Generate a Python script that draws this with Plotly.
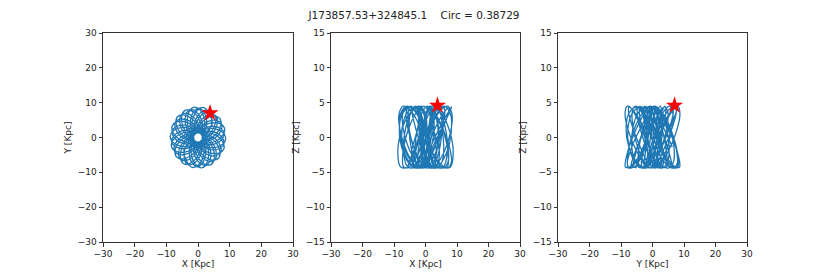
import plotly.graph_objects as go

# Orbit coordinates (kpc)
orbit_x = [4.66, 2.74, 0.40, -0.88, -0.92, -2.77, -5.71, -7.96,
           -8.37, -6.93, -4.03, -1.30, -0.05, 1.09, 3.73, 6.63,
           8.16, 7.88, 5.77, 2.88, 1.00, 1.09, 0.00, -2.20,
           -4.13, -5.14, -4.81, -3.10, -1.49, -2.77, -4.44, -3.25,
           -1.83, 0.00, 1.60, 1.88, 1.27, 3.15, 5.71, 7.19,
           6.93, 5.14, 2.36, 0.22, -0.46, -2.06, -5.02, -7.76,
           -8.79, -7.88, -5.21, -2.22, -0.56, 0.00, 1.98, 4.70,
           6.54, 6.93, 5.63, 3.18, 1.32, 2.06, 1.98, 0.56,
           -1.22, -2.74, -3.41, -2.65, -1.47, -3.15, -5.02, -5.56,
           -4.66, -2.74, -0.40, 0.88, 0.92, 2.77, 5.71, 7.96,
           8.37, 6.93, 4.03, 1.30, 0.05, -1.09, -3.73, -6.63,
           -8.16, -7.88, -5.77, -2.88, -1.00, -1.09, 0.00, 2.20,
           4.13, 5.14, 4.81, 3.10, 1.49, 2.77, 4.44, 3.25,
           1.83, 0.00, -1.60, -1.88, -1.27, -3.15, -5.71, -7.19,
           -6.93, -5.14, -2.36, -0.22, 0.46, 2.06, 5.02, 7.76,
           8.79, 7.88, 5.21, 2.22, 0.56, 0.00, -1.98, -4.70,
           -6.54, -6.93, -5.63, -3.18, -1.32, -2.06, -1.98, -0.56,
           1.22, 2.74, 3.41, 2.65, 1.47, 3.15, 5.02, 5.56,
           3.15, 1.32, -0.57, -1.32, -0.97, -2.82, -5.50, -7.31,
           -7.42, -5.82, -3.08, -0.73, 0.18, 1.50, 4.21, 6.94,
           8.22, 7.60, 5.29, 2.43, 0.69, 0.52, -0.95, -3.33,
           -5.17, -5.82, -5.02, -2.99, -1.24, -2.30, -2.75, -1.84,
           -0.29, 1.32, 2.41, 2.16, 1.21, 3.00, 5.17, 6.15,
           5.62, 3.80, 1.33, -0.31, -0.61, -2.30, -5.17, -7.58,
           -8.32, -7.14, -4.45, -1.68, -0.27, 0.52, 2.75, 5.47,
           7.12, 7.14, 5.49, 2.88, 1.02, 1.50, 0.95, -0.79,
           -2.60, -3.80, -3.96, -2.74, -1.30, -2.82, -4.21, -4.25,
           -3.15, -1.32, 0.57, 1.32, 0.97, 2.82, 5.50, 7.31,
           7.42, 5.82, 3.08, 0.73, -0.18, -1.50, -4.21, -6.94,
           -8.22, -7.60, -5.29, -2.43, -0.69, -0.52, 0.95, 3.33,
           5.17, 5.82, 5.02, 2.99, 1.24, 2.30, 2.75, 1.84,
           0.29, -1.32, -2.41, -2.16, -1.21, -3.00, -5.17, -6.15,
           -5.62, -3.80, -1.33, 0.31, 0.61, 2.30, 5.17, 7.58,
           8.32, 7.14, 4.45, 1.68, 0.27, -0.52, -2.75, -5.47,
           -7.12, -7.14, -5.49, -2.88, -1.02, -1.50, -0.95, 0.79,
           2.60, 3.80, 3.96, 2.74, 1.30, 2.82, 4.21, 4.25]
orbit_y = [7.46, 7.52, 5.79, 3.08, 1.18, 1.60, 1.01, -0.84,
           -2.72, -4.00, -4.17, -2.92, -1.50, -3.01, -4.44, -4.47,
           -3.30, -1.39, 0.61, 1.40, 1.11, 3.01, 5.80, 7.69,
           7.77, 6.13, 3.24, 0.77, -0.21, -1.60, -3.73, -7.31,
           -8.61, -8.00, -5.58, -2.59, -0.79, -0.56, 1.01, 3.51,
           5.42, 6.13, 5.30, 3.19, 1.43, 2.45, 2.90, 1.94,
           0.31, -1.39, -2.54, -2.30, -1.39, -3.20, -5.45, -6.47,
           -5.89, -4.00, -1.40, 0.33, 0.70, 2.45, 5.45, 7.98,
           8.71, 7.52, 4.69, 1.79, 0.31, -0.56, -2.90, -5.75,
           -7.46, -7.52, -5.79, -3.08, -1.18, -1.60, -1.01, 0.84,
           2.72, 4.00, 4.17, 2.92, 1.50, 3.01, 4.44, 4.47,
           3.30, 1.39, -0.61, -1.40, -1.11, -3.01, -5.80, -7.69,
           -7.77, -6.13, -3.24, -0.77, 0.21, 1.60, 3.73, 7.31,
           8.61, 8.00, 5.58, 2.59, 0.79, 0.56, -1.01, -3.51,
           -5.42, -6.13, -5.30, -3.19, -1.43, -2.45, -2.90, -1.94,
           -0.31, 1.39, 2.54, 2.30, 1.39, 3.20, 5.45, 6.47,
           5.89, 4.00, 1.40, -0.33, -0.70, -2.45, -5.45, -7.98,
           -8.71, -7.52, -4.69, -1.79, -0.31, 0.56, 2.90, 5.75,
           7.79, 7.48, 5.47, 2.70, 0.87, 1.03, 0.00, -2.09,
           -3.94, -4.89, -4.56, -2.91, -1.29, -2.60, -3.54, -3.09,
           -1.75, 0.00, 1.52, 1.76, 1.10, 2.95, 5.42, 6.83,
           6.62, 4.89, 2.24, 0.21, -0.40, -1.93, -4.76, -7.37,
           -8.39, -7.48, -4.94, -2.08, -0.49, 0.00, 1.88, 4.47,
           6.24, 6.58, 5.34, 2.98, 1.15, 1.93, 1.88, 0.53,
           -1.17, -2.60, -3.23, -2.49, -1.27, -2.95, -4.76, -5.28,
           -4.45, -2.60, -0.38, 0.83, 0.80, 2.60, 5.42, 7.56,
           7.99, 6.58, 3.82, 1.22, 0.05, -1.03, -3.54, -6.30,
           -7.79, -7.48, -5.47, -2.70, -0.87, -1.03, 0.00, 2.09,
           3.94, 4.89, 4.56, 2.91, 1.29, 2.60, 3.54, 3.09,
           1.75, 0.00, -1.52, -1.76, -1.10, -2.95, -5.42, -6.83,
           -6.62, -4.89, -2.24, -0.21, 0.40, 1.93, 4.76, 7.37,
           8.39, 7.48, 4.94, 2.08, 0.49, 0.00, -1.88, -4.47,
           -6.24, -6.58, -5.34, -2.98, -1.15, -1.93, -1.88, -0.53,
           1.17, 2.60, 3.23, 2.49, 1.27, 2.95, 4.76, 5.28,
           4.45, 2.60, 0.38, -0.83, -0.80, -2.60, -5.42, -7.56,
           -7.99, -6.58, -3.82, -1.22, -0.05, 1.03, 3.54, 6.30]
orbit_z = [4.50, 3.45, 0.78, -2.25, -4.23, -4.23, -2.25, 0.78, 3.45,
           4.50, 3.45, 0.78, -2.25, -4.23, -4.23, -2.25, 0.78, 3.45,
           4.50, 3.45, 0.78, -2.25, -4.23, -4.23, -2.25, 0.78, 3.45,
           4.50, 3.45, 0.78, -2.25, -4.23, -4.23, -2.25, 0.78, 3.45,
           4.50, 3.45, 0.78, -2.25, -4.23, -4.23, -2.25, 0.78, 3.45,
           4.50, 3.45, 0.78, -2.25, -4.23, -4.23, -2.25, 0.78, 3.45,
           4.50, 3.45, 0.78, -2.25, -4.23, -4.23, -2.25, 0.78, 3.45,
           4.50, 3.45, 0.78, -2.25, -4.23, -4.23, -2.25, 0.78, 3.45,
           4.50, 3.45, 0.78, -2.25, -4.23, -4.23, -2.25, 0.78, 3.45,
           4.50, 3.45, 0.78, -2.25, -4.23, -4.23, -2.25, 0.78, 3.45,
           4.50, 3.45, 0.78, -2.25, -4.23, -4.23, -2.25, 0.78, 3.45,
           4.50, 3.45, 0.78, -2.25, -4.23, -4.23, -2.25, 0.78, 3.45,
           4.50, 3.45, 0.78, -2.25, -4.23, -4.23, -2.25, 0.78, 3.45,
           4.50, 3.45, 0.78, -2.25, -4.23, -4.23, -2.25, 0.78, 3.45,
           4.50, 3.45, 0.78, -2.25, -4.23, -4.23, -2.25, 0.78, 3.45,
           4.50, 3.45, 0.78, -2.25, -4.23, -4.23, -2.25, 0.78, 3.45,
           4.40, 3.56, 1.36, -1.36, -3.56, -4.40, -3.56, -1.36, 1.36, 3.56,
           4.40, 3.56, 1.36, -1.36, -3.56, -4.40, -3.56, -1.36, 1.36, 3.56,
           4.40, 3.56, 1.36, -1.36, -3.56, -4.40, -3.56, -1.36, 1.36, 3.56,
           4.40, 3.56, 1.36, -1.36, -3.56, -4.40, -3.56, -1.36, 1.36, 3.56,
           4.40, 3.56, 1.36, -1.36, -3.56, -4.40, -3.56, -1.36, 1.36, 3.56,
           4.40, 3.56, 1.36, -1.36, -3.56, -4.40, -3.56, -1.36, 1.36, 3.56,
           4.40, 3.56, 1.36, -1.36, -3.56, -4.40, -3.56, -1.36, 1.36, 3.56,
           4.40, 3.56, 1.36, -1.36, -3.56, -4.40, -3.56, -1.36, 1.36, 3.56,
           4.40, 3.56, 1.36, -1.36, -3.56, -4.40, -3.56, -1.36, 1.36, 3.56,
           4.40, 3.56, 1.36, -1.36, -3.56, -4.40, -3.56, -1.36, 1.36, 3.56,
           4.40, 3.56, 1.36, -1.36, -3.56, -4.40, -3.56, -1.36, 1.36, 3.56,
           4.40, 3.56, 1.36, -1.36, -3.56, -4.40, -3.56, -1.36, 1.36, 3.56,
           4.40, 3.56, 1.36, -1.36, -3.56, -4.40, -3.56, -1.36, 1.36, 3.56,
           4.40, 3.56, 1.36, -1.36, -3.56, -4.40, -3.56, -1.36, 1.36, 3.56,
           4.40, 3.56, 1.36, -1.36]

# Current position of the star
star_x = [3.8]
star_y = [7.0]
star_z = [4.6]

title_text = "J173857.53+324845.1    Circ = 0.38729"
xy_ticks = [-30, -20, -10, 0, 10, 20, 30]
z_ticks = [-15, -10, -5, 0, 5, 10, 15]


def lab(v):
    return str(v).replace("-", "\u2212")


W, H = 830, 277
OFF = 8  # default page body margin
panels = [
    dict(h=orbit_x, v=orbit_y, sh=star_x, sv=star_y, xl="X [Kpc]", yl="Y [Kpc]", yr=(-30, 30), yt=xy_ticks, dom=(103, 293)),
    dict(h=orbit_x, v=orbit_z, sh=star_x, sv=star_z, xl="X [Kpc]", yl="Z [Kpc]", yr=(-15, 15), yt=z_ticks, dom=(331, 520)),
    dict(h=orbit_y, v=orbit_z, sh=star_y, sv=star_z, xl="Y [Kpc]", yl="Z [Kpc]", yr=(-15, 15), yt=z_ticks, dom=(558, 747)),
]
y_dom = [1 - (242 - OFF) / H, 1 - (33 - OFF) / H]

fig = go.Figure()
font = dict(family="DejaVu Sans", size=9, color="#222")
for i, p in enumerate(panels, start=1):
    xa = "x" if i == 1 else f"x{i}"
    ya = "y" if i == 1 else f"y{i}"
    fig.add_trace(go.Scatter(x=p["h"], y=p["v"], mode="lines",
                             line=dict(color="#1f77b4", width=1.3, shape="spline", smoothing=1.0),
                             xaxis=xa, yaxis=ya, showlegend=False, hoverinfo="skip"))
    fig.add_trace(go.Scatter(x=p["sh"], y=p["sv"], mode="markers",
                             marker=dict(symbol="star", size=13, color="red", line=dict(width=0)),
                             xaxis=xa, yaxis=ya, showlegend=False))
    axkw = dict(showgrid=False, zeroline=False, showline=True, mirror=True,
                linecolor="#333", linewidth=1, ticks="outside", ticklen=3.5,
                tickcolor="#333", tickwidth=1, tickfont=font, automargin=False)
    fig.layout["xaxis" if i == 1 else f"xaxis{i}"] = dict(
        domain=[(p["dom"][0] - OFF) / W, (p["dom"][1] - OFF) / W], anchor=ya, range=[-30, 30],
        tickvals=xy_ticks, ticktext=[lab(t) for t in xy_ticks],
        title=dict(text=p["xl"], font=font, standoff=2), **axkw)
    fig.layout["yaxis" if i == 1 else f"yaxis{i}"] = dict(
        domain=y_dom, anchor=xa, range=list(p["yr"]),
        tickvals=p["yt"], ticktext=[lab(t) for t in p["yt"]],
        title=dict(text=p["yl"], font=font, standoff=4), **axkw)

fig.update_layout(
    width=W, height=H, margin=dict(l=0, r=0, t=0, b=0, autoexpand=False),
    paper_bgcolor="white", plot_bgcolor="white",
    title=dict(text=title_text, x=(414 - OFF) / W, xanchor="center", y=1 - 7 / H, yanchor="middle",
               font=dict(family="DejaVu Sans", size=10.5, color="#222"), automargin=False),
)
fig.write_html("out.html")
